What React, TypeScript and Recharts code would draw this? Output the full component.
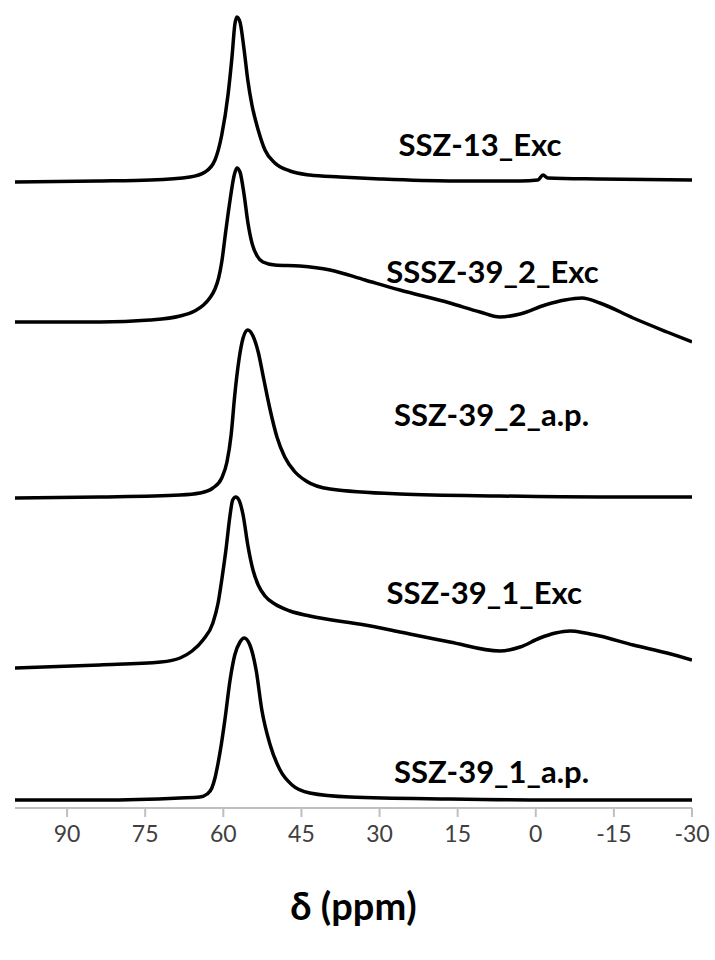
import React from 'react';
import { LineChart, Line, XAxis, YAxis, ReferenceDot } from 'recharts';

// chemical shift (ppm) and stacked intensity
const ssz13Exc = [
  [100, 626], [84, 627], [74, 628], [66.4, 631], [63.5, 636], [61.6, 648], [60.3, 673],
  [59.1, 713], [58.3, 753], [57.8, 783], [57.4, 791], [56.8, 786], [56.0, 758], [55.3, 728],
  [54.5, 703], [53.3, 678], [52.0, 658], [50.1, 645], [47.2, 637], [43.4, 633], [37.6, 631],
  [29.9, 629], [16.5, 627], [3.0, 627], [-0.4, 628], [-1.4, 633], [-2.3, 630], [-12.3, 629], [-30, 628],
];

const sssz392Exc = [
  [100, 486], [83.7, 486], [74.1, 488], [68.3, 492], [65.5, 497], [63.8, 503], [62.6, 510],
  [61.6, 519], [60.9, 530], [60.3, 546], [59.5, 578], [58.7, 608], [57.9, 633], [57.4, 640],
  [56.8, 636], [56.0, 613], [55.3, 586], [54.5, 565], [53.5, 552], [52.4, 546], [50.1, 543],
  [45.3, 542], [39.5, 538], [32.8, 528], [26.1, 518], [16.5, 505], [10.7, 496], [6.9, 491],
  [3.0, 494], [-1.8, 503], [-5.6, 508], [-8.9, 510], [-12.3, 505], [-18.7, 490], [-25.2, 476], [-30, 466],
];

const ssz392Ap = [
  [100, 310], [83.7, 311], [68.3, 313], [64.5, 315], [62.0, 320], [60.3, 330], [59.3, 346],
  [58.5, 373], [57.8, 413], [57.0, 448], [56.2, 470], [55.3, 478], [54.3, 472], [53.3, 456],
  [52.2, 428], [51.0, 398], [49.7, 371], [48.2, 351], [46.4, 337], [44.1, 327], [39.5, 319],
  [26.1, 314], [6.9, 312], [-12.3, 311], [-30, 311],
];

const ssz391Exc = [
  [100, 140], [83.7, 143], [72.0, 146], [68.3, 150], [66.0, 157], [63.9, 168], [62.0, 185],
  [61.0, 205], [60.3, 228], [59.5, 258], [58.7, 293], [58.2, 308], [57.6, 311], [57.0, 308],
  [56.2, 293], [55.3, 263], [54.3, 238], [53.3, 223], [52.0, 212], [50.1, 204], [47.2, 197],
  [43.4, 192], [32.8, 183], [26.1, 176], [16.5, 166], [6.9, 157], [3.0, 161], [-0.8, 170],
  [-3.8, 175], [-6.6, 177], [-9.5, 175], [-12.3, 172], [-18.7, 163], [-25.2, 155], [-30, 148],
];

const ssz391Ap = [
  [100, 8], [83.7, 8], [68.3, 10], [64.5, 11], [63.1, 14], [62.2, 20], [61.6, 30], [61.0, 45],
  [60.4, 63], [59.7, 88], [58.7, 128], [57.8, 153], [56.8, 166], [56.0, 170], [54.9, 163],
  [53.7, 138], [52.6, 98], [51.0, 63], [49.1, 38], [46.8, 23], [43.4, 15], [35.7, 11],
  [16.5, 9], [-2.7, 8], [-30, 8],
];

const seriesNames = ['SSZ-13_Exc', 'SSSZ-39_2_Exc', 'SSZ-39_2_a.p.', 'SSZ-39_1_Exc', 'SSZ-39_1_a.p.'];
const seriesData = [ssz13Exc, sssz392Exc, ssz392Ap, ssz391Exc, ssz391Ap];
const ppmTicks = [90, 75, 60, 45, 30, 15, 0, -15, -30];

// label centres in chart coordinates (ppm, intensity)
const labelAnchors = [
  [10.7, 663], [8.3, 536], [8.5, 393], [9.9, 215], [8.5, 36],
];

const toRows = (pts: number[][]) => pts.map(([ppm, v]) => ({ ppm, v }));

export default function App() {
  return (
    <div style={{ position: 'absolute', left: 0, top: 0, width: 715, height: 960, background: '#fff' }}>
      <LineChart width={715} height={960} margin={{ top: 8, right: 23, bottom: 0, left: 15 }}>
        <XAxis
          type="number"
          dataKey="ppm"
          domain={[-30, 100]}
          reversed
          allowDataOverflow
          ticks={ppmTicks}
          interval={0}
          height={152}
          axisLine={{ stroke: '#bfbfbf', strokeWidth: 2 }}
          tickLine={{ stroke: '#bfbfbf', strokeWidth: 2 }}
          tickSize={9}
          tickMargin={9}
          tick={{ fill: '#404040', fontSize: 23, fontFamily: 'Lato' }}
          label={{
            value: 'δ (ppm)',
            position: 'insideBottom',
            offset: 40,
            fill: '#000',
            fontSize: 38,
            fontWeight: 700,
            fontFamily: 'Lato',
          }}
        />
        <YAxis type="number" domain={[0, 800]} hide />
        {seriesData.map((pts, i) => (
          <Line
            key={seriesNames[i]}
            data={toRows(pts)}
            dataKey="v"
            type="monotone"
            stroke="#000"
            strokeWidth={3.5}
            dot={false}
            isAnimationActive={false}
          />
        ))}
        {labelAnchors.map(([x, y], i) => (
          <ReferenceDot
            key={'lbl' + i}
            x={x}
            y={y}
            r={0}
            stroke="none"
            fill="none"
            label={{
              value: seriesNames[i],
              position: 'center',
              fill: '#000',
              fontSize: 31,
              fontWeight: 700,
              fontFamily: 'Lato',
            }}
          />
        ))}
      </LineChart>
    </div>
  );
}
